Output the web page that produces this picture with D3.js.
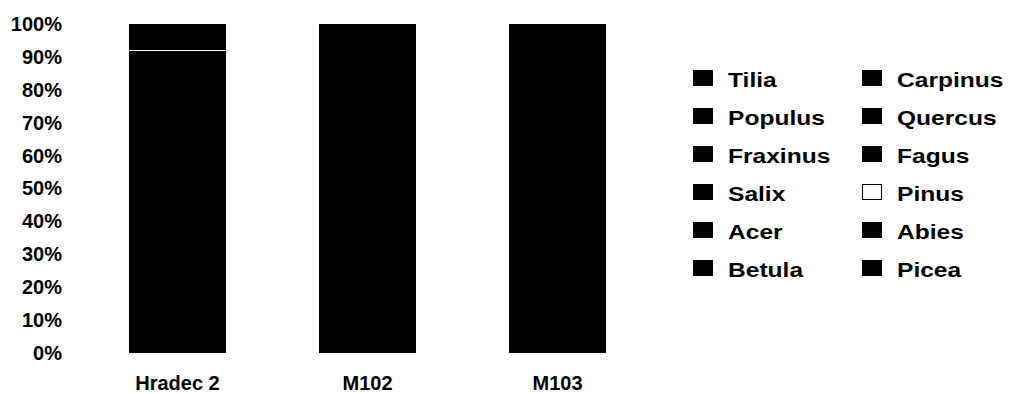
<!DOCTYPE html>
<html>
<head>
<meta charset="utf-8">
<script src="https://cdn.jsdelivr.net/npm/d3@7"></script>
<style>
  html, body { margin: 0; padding: 0; background: #fff; }
  svg { display: block; font-family: "Liberation Sans", Arial, sans-serif; }
</style>
</head>
<body>
<svg id="chart" width="1013" height="394"></svg>
<script>
// Sites (one column each)
const sites = ["Hradec 2", "M102", "M103"];

// Taxa in legend order (read row by row)
const taxa = ["Tilia", "Carpinus", "Populus", "Quercus", "Fraxinus", "Fagus",
              "Salix", "Pinus", "Acer", "Abies", "Betula", "Picea"];

// Share of each taxon per site, in percent, same order as `taxa`
const hradec2 = [0.5, 0.6, 0.3, 1.5, 0.9, 2.6, 1.4, 0.3, 10.0, 22.4, 21.0, 38.5];
const m102    = [0.4, 0.8, 0.5, 2.1, 1.2, 6.5, 0.9, 0.0, 6.2, 18.4, 17.0, 46.0];
const m103    = [0.6, 1.1, 0.4, 2.6, 0.8, 8.3, 1.2, 0.0, 5.0, 16.0, 19.0, 45.0];

const yTicks = [0, 10, 20, 30, 40, 50, 60, 70, 80, 90, 100];

// Fill per taxon: everything black except pine
const fills = {Pinus: "#ffffff"};
const fillOf = k => fills[k] || "#000000";

const table = sites.map((s, i) => {
  const vals = [hradec2, m102, m103][i];
  const row = {site: s};
  taxa.forEach((t, j) => row[t] = vals[j]);
  return row;
});

const svg = d3.select("#chart");

const x = d3.scaleBand()
  .domain(sites)
  .range([82.5, 652.5])
  .paddingInner(0.49)
  .paddingOuter(0.245);

const y = d3.scaleLinear().domain([0, 100]).range([353, 24]);

// Stack from the bottom: last legend entry sits at the base of the column
const stackKeys = taxa.slice().reverse();
const series = d3.stack().keys(stackKeys)
  .offset(d3.stackOffsetExpand)(table);

const yPct = v => y(v * 100);

svg.append("g")
  .attr("shape-rendering", "crispEdges")
  .selectAll("g")
  .data(series)
  .join("g")
    .attr("fill", d => fillOf(d.key))
  .selectAll("rect")
  .data(d => d)
  .join("rect")
    .attr("x", d => x(d.data.site))
    .attr("width", x.bandwidth())
    .attr("y", d => yPct(d[1]))
    .attr("height", d => Math.max(0, yPct(d[0]) - yPct(d[1])));

// Value axis: labels only
const yAxis = d3.axisLeft(y)
  .tickValues(yTicks)
  .tickFormat(d => d + "%")
  .tickSize(0)
  .tickPadding(0);

const gy = svg.append("g")
  .attr("transform", "translate(62,0)")
  .call(yAxis);
gy.select(".domain").remove();
gy.selectAll("text")
  .attr("fill", "#000")
  .attr("font-size", 20)
  .attr("font-weight", "bold")
  .attr("font-family", "Liberation Sans, Arial, sans-serif");

// Category axis
const xAxis = d3.axisBottom(x).tickSize(0).tickPadding(0);
const gx = svg.append("g")
  .attr("transform", "translate(0,376)")
  .call(xAxis);
gx.select(".domain").remove();
gx.selectAll("text")
  .attr("fill", "#000")
  .attr("font-size", 20)
  .attr("font-weight", "bold")
  .attr("font-family", "Liberation Sans, Arial, sans-serif")
  .attr("dy", "0.72em");

// Legend: two columns, filled row by row
const legendCols = [693, 862];
const legendTop = 78;
const legendStep = 38;

const items = svg.append("g").selectAll("g")
  .data(taxa)
  .join("g")
    .attr("transform", (d, i) =>
      `translate(${legendCols[i % 2]},${legendTop + Math.floor(i / 2) * legendStep})`);

items.append("rect")
  .attr("x", 0.5)
  .attr("y", -7.5)
  .attr("width", 19)
  .attr("height", 15)
  .attr("fill", d => fillOf(d))
  .attr("stroke", "#000")
  .attr("stroke-width", 1);

items.append("text")
  .attr("transform", "translate(35,8.5) scale(1.17,1)")
  .attr("font-size", 21)
  .attr("font-weight", "bold")
  .attr("fill", "#000")
  .text(d => d);
</script>
</body>
</html>
